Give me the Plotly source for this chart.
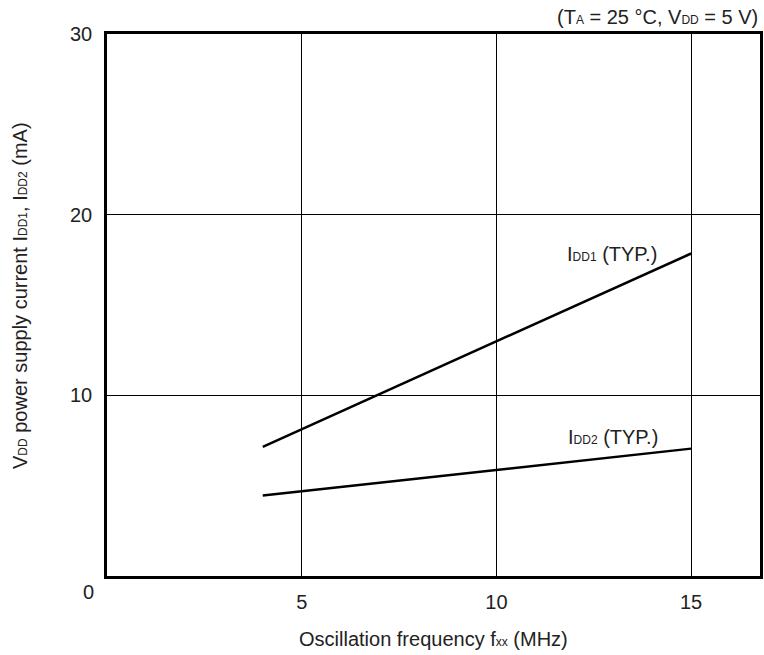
import plotly.graph_objects as go

freq = [4, 15]
idd1 = [7.15, 17.85]
idd2 = [4.45, 7.05]
x_ticks = [5, 10, 15]
y_ticks = [10, 20, 30]

FONT = "Liberation Sans, Arial, sans-serif"
TXT = "#222222"
FS = 20
SUB = '<span style="font-size:12px">{}</span>'

L, R, T, B = 107, 760, 34, 576
W, H = 764, 655

fig = go.Figure()
fig.add_trace(go.Scatter(x=freq, y=idd1, mode="lines",
                         line=dict(color="black", width=2.5), showlegend=False))
fig.add_trace(go.Scatter(x=freq, y=idd2, mode="lines",
                         line=dict(color="black", width=2.5), showlegend=False))

fig.update_layout(
    width=W, height=H,
    margin=dict(l=L, r=W - R, t=T, b=H - B, autoexpand=False),
    paper_bgcolor="white", plot_bgcolor="white",
    font=dict(family=FONT, size=FS, color=TXT),
    xaxis=dict(range=[0, 16.77], tickvals=x_ticks, ticktext=[str(v) for v in x_ticks],
               showgrid=True, gridcolor="black", gridwidth=1, zeroline=False,
               showline=True, linecolor="black", linewidth=2.5, mirror=True,
               ticks="outside", ticklen=6, tickcolor="rgba(0,0,0,0)",
               tickfont=dict(size=FS, color=TXT)),
    yaxis=dict(range=[0, 30], tickvals=y_ticks, ticktext=[str(v) for v in y_ticks],
               showgrid=True, gridcolor="black", gridwidth=1, zeroline=False,
               showline=True, linecolor="black", linewidth=2.5, mirror=True,
               ticks="outside", ticklen=8, tickcolor="rgba(0,0,0,0)",
               tickfont=dict(size=FS, color=TXT)),
)

ann = [
    dict(text="0", x=88, y=592),
    dict(text="I" + SUB.format("DD1") + " (TYP.)", x=612, y=254),
    dict(text="I" + SUB.format("DD2") + " (TYP.)", x=613, y=437),
    dict(text="(T" + SUB.format("A") + " = 25 °C, V" + SUB.format("DD") + " = 5 V)",
         x=760, y=17, xanchor="right"),
    dict(text="Oscillation frequency f" + SUB.format("xx") + " (MHz)", x=433, y=639),
    dict(text="V" + SUB.format("DD") + " power supply current I" + SUB.format("DD1")
         + ", I" + SUB.format("DD2") + " (mA)", x=20, y=296, textangle=-90),
]
for a in ann:
    px, py = a.pop("x"), a.pop("y")
    fig.add_annotation(x=(px - L) / (R - L), y=(B - py) / (B - T),
                       xref="paper", yref="paper",
                       showarrow=False, font=dict(family=FONT, size=FS, color=TXT),
                       xanchor=a.pop("xanchor", "center"), yanchor="middle", **a)

fig.write_html("out.html", config={"displayModeBar": False},
               post_script="document.body.style.margin='0';document.body.style.padding='0';")
